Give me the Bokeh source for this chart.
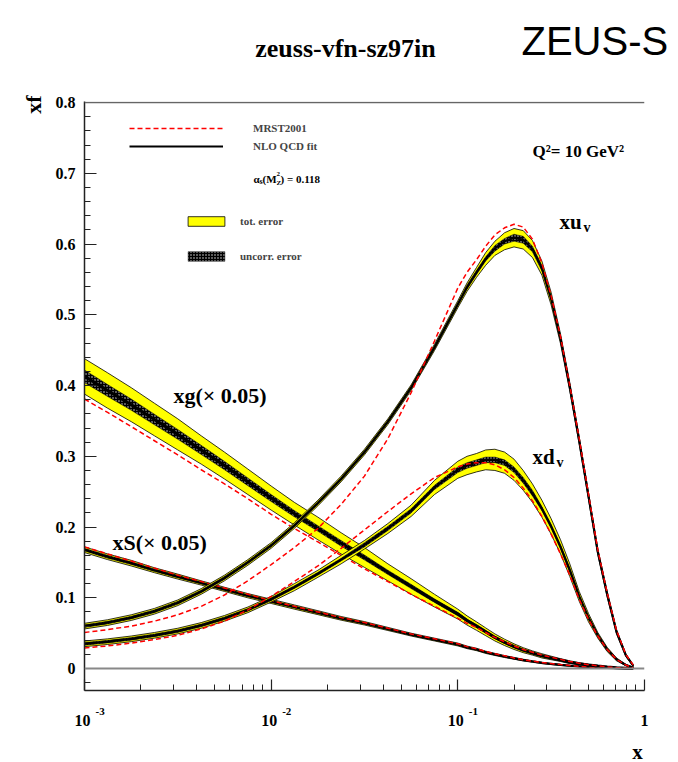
import numpy as np
from bokeh.plotting import figure
from bokeh.models import (Range1d, FixedTicker, SingleIntervalTicker, CustomJSTickFormatter,
                          Span, Label, Legend, LegendItem)
from bokeh.core.properties import value
from bokeh.embed import file_html
from bokeh.resources import INLINE

# ---------------------------------------------------------------- data
# momentum fraction x (log-spaced sampling, denser around the valence peaks)
x = [0.001, 0.00133, 0.00178, 0.00237, 0.00316, 0.00422, 0.00562, 0.0075,
     0.01, 0.0133, 0.0178, 0.0237, 0.0316, 0.0422, 0.0562, 0.075,
     0.1, 0.112, 0.126, 0.141, 0.158, 0.178, 0.2, 0.224, 0.251, 0.282,
     0.316, 0.355, 0.398, 0.447, 0.501, 0.562, 0.631, 0.708, 0.794, 0.87]

# x u_valence : fit, total error, uncorrelated error, MRST2001
xuv_fit = [0.060, 0.065, 0.072, 0.081, 0.093, 0.109, 0.128, 0.150,
           0.174, 0.202, 0.234, 0.268, 0.306, 0.349, 0.397, 0.454,
           0.515, 0.539, 0.560, 0.579, 0.594, 0.604, 0.609, 0.606, 0.593, 0.566,
           0.523, 0.466, 0.398, 0.322, 0.244, 0.165, 0.105, 0.052, 0.019, 0.004]
xuv_tot = [0.004, 0.004, 0.004, 0.004, 0.004, 0.004, 0.004, 0.004,
           0.004, 0.004, 0.004, 0.004, 0.004, 0.004, 0.004, 0.0045,
           0.005, 0.006, 0.007, 0.009, 0.010, 0.012, 0.013, 0.013, 0.012, 0.010,
           0.009, 0.007, 0.006, 0.005, 0.005, 0.004, 0.004, 0.003, 0.002, 0.001]
xuv_unc = [0.002, 0.002, 0.002, 0.002, 0.002, 0.002, 0.002, 0.002,
           0.002, 0.002, 0.002, 0.002, 0.002, 0.002, 0.002, 0.002,
           0.002, 0.003, 0.003, 0.003, 0.004, 0.004, 0.005, 0.005, 0.004, 0.004,
           0.003, 0.003, 0.003, 0.002, 0.002, 0.002, 0.002, 0.001, 0.001, 0.001]
xuv_mrst = [0.051, 0.055, 0.060, 0.067, 0.076, 0.088, 0.104, 0.124,
            0.147, 0.171, 0.198, 0.232, 0.272, 0.325, 0.390, 0.463,
            0.538, 0.560, 0.578, 0.597, 0.613, 0.623, 0.628, 0.624, 0.607, 0.573,
            0.527, 0.469, 0.400, 0.325, 0.247, 0.168, 0.107, 0.054, 0.020, 0.005]

# x d_valence
xdv_fit = [0.035, 0.038, 0.042, 0.047, 0.053, 0.061, 0.071, 0.083,
           0.098, 0.115, 0.134, 0.154, 0.175, 0.198, 0.223, 0.256,
           0.281, 0.287, 0.291, 0.295, 0.295, 0.291, 0.281, 0.266, 0.248, 0.226,
           0.201, 0.172, 0.139, 0.102, 0.072, 0.047, 0.027, 0.013, 0.005, 0.001]
xdv_tot = [0.004, 0.004, 0.004, 0.004, 0.004, 0.004, 0.004, 0.004,
           0.004, 0.005, 0.005, 0.006, 0.006, 0.007, 0.008, 0.010,
           0.012, 0.013, 0.013, 0.014, 0.015, 0.015, 0.015, 0.014, 0.013, 0.012,
           0.011, 0.010, 0.009, 0.007, 0.006, 0.004, 0.003, 0.002, 0.001, 0.001]
xdv_unc = [0.002, 0.002, 0.002, 0.002, 0.002, 0.002, 0.002, 0.002,
           0.002, 0.002, 0.002, 0.002, 0.003, 0.003, 0.003, 0.003,
           0.004, 0.004, 0.004, 0.004, 0.004, 0.004, 0.004, 0.004, 0.004, 0.003,
           0.003, 0.003, 0.003, 0.002, 0.002, 0.002, 0.001, 0.001, 0.001, 0.001]
xdv_mrst = [0.029, 0.032, 0.036, 0.041, 0.047, 0.056, 0.067, 0.083,
            0.102, 0.123, 0.145, 0.170, 0.196, 0.222, 0.247, 0.270,
            0.285, 0.289, 0.291, 0.291, 0.288, 0.281, 0.270, 0.255, 0.237, 0.215,
            0.190, 0.162, 0.132, 0.098, 0.070, 0.046, 0.027, 0.013, 0.005, 0.001]

# x g (scaled by 0.05)
xg_fit = [0.413, 0.393, 0.373, 0.352, 0.331, 0.309, 0.287, 0.264,
          0.241, 0.219, 0.198, 0.177, 0.157, 0.136, 0.116, 0.096,
          0.077, 0.068, 0.060, 0.052, 0.044, 0.037, 0.031, 0.026, 0.022, 0.018,
          0.015, 0.012, 0.009, 0.0068, 0.005, 0.0035, 0.0022, 0.0012, 0.0005, 0.0002]
xg_tot = [0.025, 0.025, 0.024, 0.023, 0.022, 0.020, 0.019, 0.018,
          0.017, 0.016, 0.016, 0.015, 0.014, 0.012, 0.011, 0.009,
          0.007, 0.0065, 0.006, 0.0055, 0.005, 0.0045, 0.004, 0.0035, 0.003, 0.003,
          0.0025, 0.002, 0.002, 0.0015, 0.0012, 0.001, 0.0008, 0.0005, 0.0003, 0.0001]
xg_unc = [0.009, 0.0085, 0.008, 0.0075, 0.007, 0.0065, 0.006, 0.0055,
          0.005, 0.0045, 0.004, 0.004, 0.0035, 0.003, 0.003, 0.0025,
          0.0025, 0.002, 0.002, 0.002, 0.0018, 0.0016, 0.0015, 0.0014, 0.0012, 0.001,
          0.001, 0.0008, 0.0008, 0.0006, 0.0005, 0.0004, 0.0003, 0.0002, 0.0001, 0.0001]
xg_mrst = [0.381, 0.362, 0.342, 0.322, 0.302, 0.281, 0.261, 0.240,
           0.218, 0.198, 0.179, 0.160, 0.141, 0.123, 0.105, 0.088,
           0.071, 0.064, 0.058, 0.051, 0.044, 0.038, 0.032, 0.027, 0.023, 0.019,
           0.016, 0.013, 0.010, 0.0075, 0.0055, 0.0038, 0.0024, 0.0013, 0.0006, 0.0002]

# x S sea (scaled by 0.05)
xs_fit = [0.168, 0.158, 0.149, 0.139, 0.130, 0.121, 0.112, 0.103,
          0.095, 0.087, 0.079, 0.071, 0.064, 0.056, 0.048, 0.041,
          0.034, 0.030, 0.027, 0.023, 0.020, 0.017, 0.0145, 0.012, 0.010, 0.008,
          0.0065, 0.0052, 0.004, 0.003, 0.0022, 0.0015, 0.001, 0.0006, 0.0003, 0.0001]
xs_tot = [0.004, 0.004, 0.004, 0.0035, 0.0035, 0.003, 0.003, 0.003,
          0.003, 0.003, 0.0028, 0.0026, 0.0024, 0.0022, 0.002, 0.002,
          0.002, 0.0018, 0.0017, 0.0016, 0.0015, 0.0014, 0.0013, 0.0012, 0.0011, 0.001,
          0.0009, 0.0008, 0.0007, 0.0006, 0.0005, 0.0004, 0.0003, 0.0002, 0.0001, 0.0001]
xs_unc = [0.002, 0.002, 0.002, 0.0018, 0.0018, 0.0015, 0.0015, 0.0015,
          0.0015, 0.0015, 0.0014, 0.0013, 0.0012, 0.0011, 0.001, 0.001,
          0.001, 0.0009, 0.0009, 0.0008, 0.0008, 0.0007, 0.0007, 0.0006, 0.0006, 0.0005,
          0.0005, 0.0004, 0.0004, 0.0003, 0.0003, 0.0002, 0.0002, 0.0001, 0.0001, 0.0001]
xs_mrst = [0.172, 0.162, 0.152, 0.142, 0.132, 0.123, 0.114, 0.105,
           0.096, 0.088, 0.080, 0.072, 0.065, 0.057, 0.049, 0.042,
           0.035, 0.031, 0.028, 0.024, 0.021, 0.018, 0.015, 0.0125, 0.0105, 0.0085,
           0.007, 0.0056, 0.0044, 0.0033, 0.0024, 0.0017, 0.0011, 0.0006, 0.0003, 0.0001]

x_major = [1e-3, 1e-2, 1e-1, 1.0]
x_major_exp = ["-3", "-2", "-1"]

# ---------------------------------------------------------------- canvas
W, H = 678, 762
FL, FR, FT, FB = 84, 644, 101, 690          # frame edges in pixels
X0, X1 = 1e-3, 1.0
Y0, Y1 = -0.031, 0.8015

SERIF = "Liberation Serif"

p = figure(width=W, height=H, x_axis_type="log",
           x_range=Range1d(X0, X1), y_range=Range1d(Y0, Y1),
           output_backend="svg", toolbar_location=None,
           min_border_left=FL, min_border_right=W - FR,
           min_border_top=FT, min_border_bottom=H - FB)
p.outline_line_color = None
p.xgrid.visible = False
p.ygrid.visible = False
p.background_fill_color = "white"
p.border_fill_color = "white"


def dx(px):
    """pixel column -> data x on the log axis"""
    lx0, lx1 = np.log10(X0), np.log10(X1)
    return 10 ** (lx0 + (px - FL) / (FR - FL) * (lx1 - lx0))


def dy(py):
    """pixel row -> data y"""
    return Y0 + (FB - py) / (FB - FT) * (Y1 - Y0)


# ---------------------------------------------------------------- axes
for ax in (p.xaxis[0], p.yaxis[0]):
    ax.axis_line_width = 1.5
    ax.axis_line_color = "#222222"
    ax.major_tick_line_color = "#222222"
    ax.minor_tick_line_color = "#222222"
    ax.major_tick_line_width = 1.2
    ax.minor_tick_line_width = 1.0
    ax.major_tick_out = 0
    ax.minor_tick_out = 0
    ax.major_label_text_font = SERIF
    ax.major_label_text_font_style = "bold"
    ax.major_label_text_font_size = "16px"
    ax.major_label_text_color = "black"

p.yaxis.ticker = SingleIntervalTicker(interval=0.1, num_minor_ticks=5)
p.yaxis.formatter = CustomJSTickFormatter(
    code="return Math.abs(tick) < 1e-9 ? '0' : tick.toFixed(1);")
p.yaxis.major_tick_in = 12
p.yaxis.minor_tick_in = 6
p.yaxis.major_label_standoff = 9

minor = [m * 10.0 ** e for e in (-3, -2, -1) for m in range(2, 10)]
p.xaxis.ticker = FixedTicker(ticks=x_major, minor_ticks=minor)
p.xaxis.formatter = CustomJSTickFormatter(code="return '';")
p.xaxis.major_tick_in = 11
p.xaxis.minor_tick_in = 6

# frame top and zero line
p.add_layout(Span(location=0.8, dimension="width", line_color="#666666", line_width=1.5))
p.add_layout(Span(location=0.0, dimension="width", line_color="#888888", line_width=2))

# ---------------------------------------------------------------- curves
xa = np.array(x)
band_x = np.concatenate([xa, xa[::-1]])


def draw_pdf(fit, tot, unc, mrst, fit_width=2.2):
    fit = np.array(fit)
    tot = np.array(tot)
    unc = np.array(unc)
    r_tot = p.patch(band_x, np.concatenate([fit + tot, (fit - tot)[::-1]]),
                    fill_color="#ffff00", line_color="black", line_width=0.8)
    r_unc = p.patch(band_x, np.concatenate([fit + unc, (fit - unc)[::-1]]),
                    fill_color="black", line_color="black", line_width=0.4,
                    hatch_pattern="dot", hatch_color="white", hatch_scale=3,
                    hatch_weight=0.8, hatch_alpha=0.9)
    r_fit = p.line(xa, fit, line_color="black", line_width=fit_width)
    r_mrst = p.line(xa, mrst, line_color="#ff0000", line_width=1.5, line_dash="5 3")
    return r_tot, r_unc, r_fit, r_mrst


draw_pdf(xs_fit, xs_tot, xs_unc, xs_mrst)
draw_pdf(xg_fit, xg_tot, xg_unc, xg_mrst, fit_width=3)
draw_pdf(xdv_fit, xdv_tot, xdv_unc, xdv_mrst)
uv = draw_pdf(xuv_fit, xuv_tot, xuv_unc, xuv_mrst)

# ---------------------------------------------------------------- legends
leg_lines = Legend(
    items=[LegendItem(label="MRST2001", renderers=[uv[3]]),
           LegendItem(label="NLO QCD fit", renderers=[uv[2]])],
    location=(129 - FL, FB - 153), orientation="vertical",
    glyph_width=94, glyph_height=14, label_height=14, spacing=4,
    label_standoff=30, padding=0, margin=0,
    border_line_color=None, background_fill_alpha=0,
    label_text_font=SERIF, label_text_font_style="bold", label_text_font_size="11px")
p.add_layout(leg_lines)

leg_boxes = Legend(
    items=[LegendItem(label="tot. error", renderers=[uv[0]]),
           LegendItem(label="uncorr. error", renderers=[uv[1]])],
    location=(183 - FL, FB - 262), orientation="vertical",
    glyph_width=46, glyph_height=12, label_height=12, spacing=23,
    label_standoff=11, padding=0, margin=0,
    border_line_color=None, background_fill_alpha=0,
    label_text_font=SERIF, label_text_font_style="bold", label_text_font_size="11px")
p.add_layout(leg_boxes)


# ---------------------------------------------------------------- texts
def put(text, px, py, size, align="left", baseline="alphabetic", style="bold",
        font=SERIF, angle=0.0):
    """text inside the frame"""
    p.add_layout(Label(x=dx(px), y=dy(py), text=text, text_font=font,
                       text_font_size=f"{size}px", text_font_style=style,
                       text_align=align, text_baseline=baseline, angle=angle,
                       text_color="black"))


def put_out(texts, xs, ys, size, align="left", style="bold", font=SERIF,
            angle=0.0, x_offset=0):
    """text around the frame, drawn on the overlay level so it is not clipped"""
    r = p.text(x=xs, y=ys, text=texts, text_font=value(font),
               text_font_size=value(f"{size}px"), text_font_style=style,
               text_align=align, text_baseline="alphabetic", angle=angle,
               x_offset=x_offset, text_color="black")
    r.level = "overlay"
    return r


# x-axis decade labels
put_out(["10"] * 3, x_major[:3], [dy(720)] * 3, 16, align="center", x_offset=-2)
put_out(x_major_exp, x_major[:3], [dy(711)] * 3, 11, x_offset=11)
put_out(["1"], x_major[3:], [dy(720)], 16, align="center")

# titles
put_out(["zeuss-vfn-sz97in"], [dx(345)], [dy(48)], 26, align="center")
put_out(["ZEUS-S"], [dx(521)], [dy(40)], 40, style="normal", font="Liberation Sans")

# axis titles
put_out(["x"], [dx(637)], [dy(751)], 21, align="center")
put_out(["xf"], [dx(33)], [dy(95)], 22, align="right", angle=np.pi / 2)

# coupling in the legend block: alpha_s(M_Z^2) = 0.118
put("\u03b1", 253, 178, 11)
put("s", 259, 181, 8)
put("(M", 262, 178, 11)
put("2", 276, 173, 7)
put("Z", 276, 182, 7)
put(") = 0.118", 280, 178, 11)

put("Q\u00b2= 10 GeV\u00b2", 532, 151, 17)

# curve names
put("xu", 559, 221, 21)
put("v", 583, 227, 14)
put("xd", 532, 456, 21)
put("v", 556, 462, 14)
put("xg(\u00d7 0.05)", 173, 395, 22)
put("xS(\u00d7 0.05)", 112, 542, 22)

open("out.html", "w").write(file_html(p, INLINE))
